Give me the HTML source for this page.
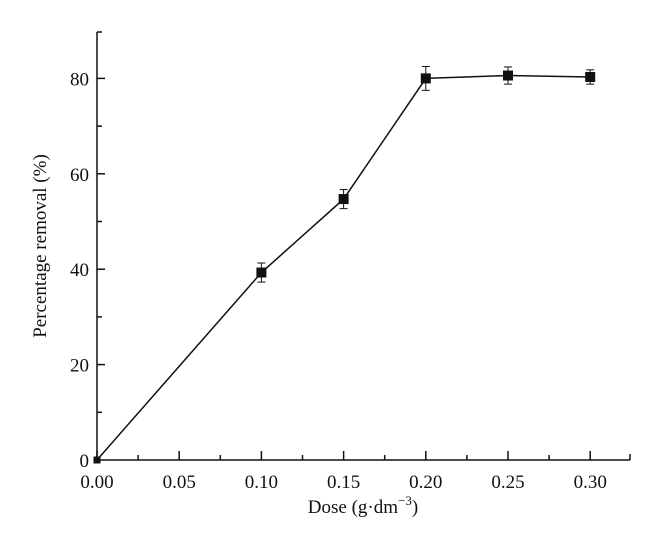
<!DOCTYPE html>
<html><head><meta charset="utf-8"><style>
body{margin:0;background:#fff;}
svg text{font-family:"Liberation Serif",serif;fill:#111;}
</style></head><body>
<svg id="chart" width="660" height="552" xmlns="http://www.w3.org/2000/svg"></svg>
<script>
const doses=[0,0.10,0.15,0.20,0.25,0.30];
const removal=[0,39.3,54.7,80.0,80.6,80.3];
const errors=[0,2.0,2.0,2.5,1.8,1.5];
const xTicks=["0.00","0.05","0.10","0.15","0.20","0.25","0.30"];
const yTicks=[0,20,40,60,80];
const NS="http://www.w3.org/2000/svg";
const svg=document.getElementById('chart');
const x0=97,xScale=1644,y0=460,yScale=4.77;
const X=v=>x0+v*xScale, Y=v=>y0-v*yScale;
function mk(tag,attrs,parent){const e=document.createElementNS(NS,tag);for(const k in attrs)e.setAttribute(k,attrs[k]);(parent||svg).appendChild(e);return e;}
const axes=mk('g',{stroke:'#111','stroke-width':1.5,fill:'none'});


mk('line',{x1:x0,y1:y0,x2:630,y2:y0},axes);
mk('line',{x1:x0,y1:y0,x2:x0,y2:32},axes);
mk('line',{x1:630,y1:y0,x2:630,y2:y0-6},axes);
mk('line',{x1:x0,y1:32,x2:x0+5,y2:32},axes);
for(let i=0;i<=12;i++){const v=i*0.025;const len=i%2?5:9;mk('line',{x1:X(v),y1:y0,x2:X(v),y2:y0-len},axes);}
for(let v=10;v<=80;v+=10){const len=v%20?5:8;mk('line',{x1:x0,y1:Y(v),x2:x0+len,y2:Y(v)},axes);}
xTicks.forEach((t,i)=>{const e=mk('text',{x:X(i*0.05),y:y0+28,'text-anchor':'middle','font-size':19});e.textContent=t;

});
yTicks.forEach(t=>{const e=mk('text',{x:x0-8,y:Y(t)+7,'text-anchor':'end','font-size':19});e.textContent=t;

});
const xt=mk('text',{x:363,y:513,'text-anchor':'middle','font-size':19});


xt.innerHTML='Dose (g·dm<tspan dy="-8" font-size="13">−3</tspan><tspan dy="8">)</tspan>';
const yt=mk('text',{x:0,y:0,'text-anchor':'middle','font-size':19,transform:'translate(46,246) rotate(-90)'});
yt.textContent='Percentage removal (%)';


const line=mk('polyline',{points:doses.map((d,i)=>X(d)+','+Y(removal[i])).join(' '),fill:'none',stroke:'#111','stroke-width':1.5});


doses.forEach((d,i)=>{
 const g=mk('g',{stroke:'#111','stroke-width':1});
 
 
 const cx=X(d),cy=Y(removal[i]);
 if(errors[i]>0){const t=Y(removal[i]+errors[i]),b=Y(removal[i]-errors[i]);
  mk('line',{x1:cx,y1:t,x2:cx,y2:b},g);mk('line',{x1:cx-4,y1:t,x2:cx+4,y2:t},g);mk('line',{x1:cx-4,y1:b,x2:cx+4,y2:b},g);}
 const s=i===0?3:4.5;
 mk('rect',{x:cx-s,y:cy-s,width:2*s,height:2*s,fill:'#111'},g);
});
</script>
</body></html>
